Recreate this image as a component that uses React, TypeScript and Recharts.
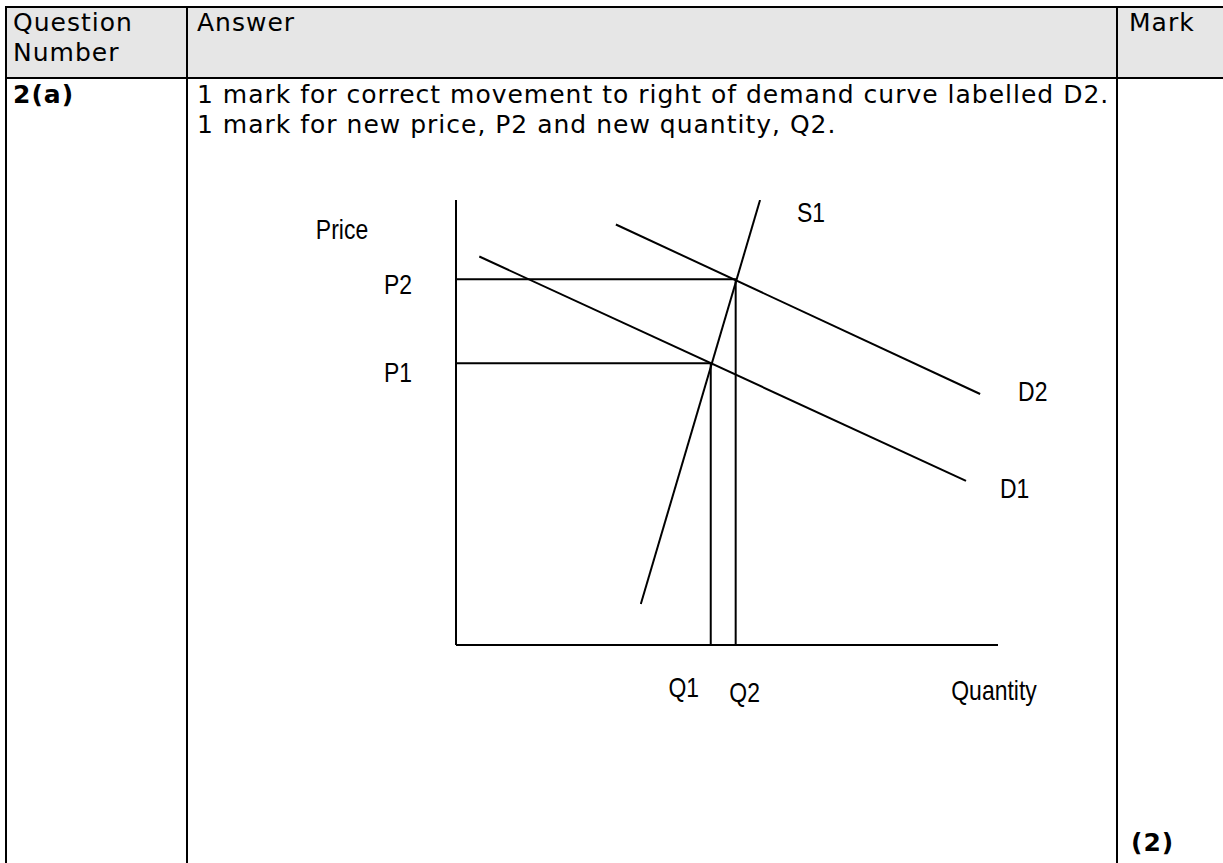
import { ComposedChart, Line, XAxis, YAxis, LabelList, Label } from "recharts";

// curve end points (q = quantity, p = price, 0..10 scale)
const supplyS1 = [
  { q: 3.41, p: 0.92 },
  { q: 5.61, p: 10 },
];
const demandD1 = [
  { q: 0.43, p: 8.73 },
  { q: 9.41, p: 3.69 },
];
const demandD2 = [
  { q: 2.95, p: 9.45 },
  { q: 9.67, p: 5.64 },
];

const Q1 = 4.7;
const Q2 = 5.16;
const P1 = 6.33;
const P2 = 8.22;

const priceTicks = [P1, P2];
const priceTickLabels = ["P1", "P2"];
const quantityTicks = [Q1, Q2];
const quantityTickLabels = ["Q1", "Q2"];

const guideP1 = [
  { q: 0, p: P1 },
  { q: Q1, p: P1 },
  { q: Q1, p: 0 },
];
const guideP2 = [
  { q: 0, p: P2 },
  { q: Q2, p: P2 },
  { q: Q2, p: 0 },
];

const tableFont = '"DejaVu Sans", Verdana, sans-serif';
const chartFont = '"Liberation Sans", Arial, sans-serif';
const chartFontSize = 28;

// arial narrow look: regular sans squeezed horizontally
const NarrowText = ({ x, y, anchor = "middle", children }: any) => (
  <text
    transform={`translate(${x},${y}) scale(0.82,1)`}
    textAnchor={anchor}
    dominantBaseline="central"
    fontFamily={chartFont}
    fontSize={chartFontSize}
    fill="#000"
  >
    {children}
  </text>
);

const PriceTick = (props: any) => {
  const { x, y, payload } = props;
  const i = priceTicks.indexOf(payload.value);
  const dy = i === 0 ? 9 : 5;
  return (
    <NarrowText x={x - 44} y={y + dy} anchor="end">
      {priceTickLabels[i]}
    </NarrowText>
  );
};

const QuantityTick = (props: any) => {
  const { x, y, payload } = props;
  const i = quantityTicks.indexOf(payload.value);
  const dx = i === 0 ? -27 : 9;
  const dy = i === 0 ? 42 : 47;
  return (
    <NarrowText x={x + dx} y={y + dy}>
      {quantityTickLabels[i]}
    </NarrowText>
  );
};

// label placed next to the last point of a curve
const endLabel = (text: string, dx: number, dy: number) => (props: any) => {
  const { x, y, index } = props;
  if (index !== 1) return null;
  return (
    <NarrowText x={x + dx} y={y + dy} anchor="start">
      {text}
    </NarrowText>
  );
};

const axisTitle = (text: string, dx: number, dy: number) => (props: any) => {
  const vb = props.viewBox || { x: 0, y: 0 };
  return (
    <NarrowText x={vb.x + dx} y={vb.y + dy}>
      {text}
    </NarrowText>
  );
};

function Diagram() {
  return (
    <ComposedChart
      width={1223}
      height={863}
      margin={{ top: 200, right: 225, bottom: 217, left: 455 }}
      style={{ position: "absolute", left: 0, top: 0 }}
    >
      <XAxis
        type="number"
        dataKey="q"
        domain={[0, 10]}
        allowDataOverflow
        ticks={quantityTicks}
        interval={0}
        tick={<QuantityTick />}
        tickLine={false}
        tickSize={0}
        tickMargin={0}
        height={1}
        axisLine={{ stroke: "#000", strokeWidth: 2 }}
      >
        <Label content={axisTitle("Quantity", 538, 45)} />
      </XAxis>
      <YAxis
        type="number"
        dataKey="p"
        domain={[0, 10]}
        allowDataOverflow
        ticks={priceTicks}
        interval={0}
        tick={<PriceTick />}
        tickLine={false}
        tickSize={0}
        tickMargin={0}
        width={1}
        axisLine={{ stroke: "#000", strokeWidth: 2 }}
      >
        <Label content={axisTitle("Price", -113, 29)} />
      </YAxis>
      <Line data={guideP2} dataKey="p" type="linear" stroke="#000" strokeWidth={2} dot={false} isAnimationActive={false} />
      <Line data={guideP1} dataKey="p" type="linear" stroke="#000" strokeWidth={2} dot={false} isAnimationActive={false} />
      <Line data={supplyS1} dataKey="p" type="linear" stroke="#000" strokeWidth={2} dot={false} isAnimationActive={false}>
        <LabelList dataKey="p" content={endLabel("S1", 37, 12)} />
      </Line>
      <Line data={demandD1} dataKey="p" type="linear" stroke="#000" strokeWidth={2} dot={false} isAnimationActive={false}>
        <LabelList dataKey="p" content={endLabel("D1", 34, 7)} />
      </Line>
      <Line data={demandD2} dataKey="p" type="linear" stroke="#000" strokeWidth={2} dot={false} isAnimationActive={false}>
        <LabelList dataKey="p" content={endLabel("D2", 38, -3)} />
      </Line>
    </ComposedChart>
  );
}

const line = (left: number, top: number, width: number, height: number) => (
  <div style={{ position: "absolute", left, top, width, height, background: "#000" }} />
);

export default function App() {
  const txt = {
    position: "absolute" as const,
    fontFamily: tableFont,
    fontSize: 25,
    letterSpacing: "1px",
    lineHeight: "30px",
    color: "#000",
    whiteSpace: "nowrap" as const,
  };
  return (
    <div style={{ position: "absolute", left: 0, top: 0, width: 1223, height: 863, background: "#fff", overflow: "hidden" }}>
      <div style={{ position: "absolute", left: 5, top: 6, width: 1218, height: 72, background: "#e6e6e6" }} />
      {line(5, 6, 1218, 2)}
      {line(5, 77, 1218, 2)}
      {line(5, 6, 2, 857)}
      {line(186, 6, 2, 857)}
      {line(1116, 6, 2, 857)}

      <div style={{ ...txt, left: 13, top: 8 }}>
        Question
        <br />
        Number
      </div>
      <div style={{ ...txt, left: 197, top: 8 }}>Answer</div>
      <div style={{ ...txt, left: 1129, top: 8 }}>Mark</div>

      <div style={{ ...txt, left: 13, top: 80, fontWeight: "bold" }}>2(a)</div>
      <div style={{ ...txt, left: 197, top: 80 }}>
        1 mark for correct movement to right of demand curve labelled D2.
        <br />
        1 mark for new price, P2 and new quantity, Q2.
      </div>
      <div style={{ ...txt, left: 1131, top: 828, fontWeight: "bold" }}>(2)</div>

      <Diagram />
    </div>
  );
}
